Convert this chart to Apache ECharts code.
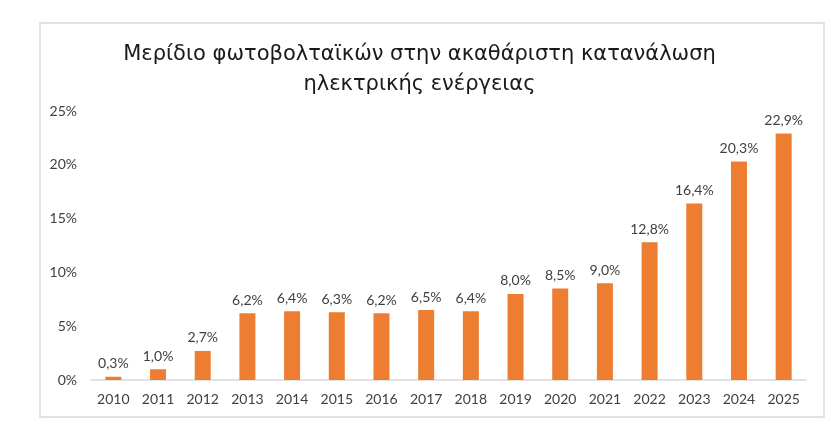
<!DOCTYPE html>
<html>
<head>
<meta charset="utf-8">
<script src="https://cdn.jsdelivr.net/npm/echarts@6/dist/echarts.min.js"></script>
<style>
  html, body { margin: 0; padding: 0; background: #fff; }
  #chart { width: 839px; height: 428px; }
</style>
</head>
<body>
<div id="chart"></div>
<script>
const years = ['2010', '2011', '2012', '2013', '2014', '2015', '2016', '2017',
  '2018', '2019', '2020', '2021', '2022', '2023', '2024', '2025']
const share = [0.3, 1.0, 2.7, 6.2, 6.4, 6.3, 6.2, 6.5, 6.4, 8.0, 8.5, 9.0, 12.8, 16.4, 20.3, 22.9]
const titleLines = ['Μερίδιο φωτοβολταϊκών στην ακαθάριστη κατανάλωση', 'ηλεκτρικής ενέργειας']

const font = 'Lato, "Noto Sans", sans-serif'
const chart = echarts.init(document.getElementById('chart'))

chart.setOption({
  animation: false,
  graphic: [{
    type: 'rect',
    shape: { x: 40, y: 23, width: 784, height: 394 },
    style: { fill: 'none', stroke: '#d9d9d9', lineWidth: 1.5 },
    silent: true
  }],
  title: {
    text: titleLines.join('\n'),
    left: 'center',
    top: 35,
    textStyle: {
      fontFamily: '"DejaVu Sans", sans-serif',
      fontSize: 21,
      fontWeight: 'normal',
      color: '#1a1a1a',
      lineHeight: 30
    }
  },
  grid: { left: 91, right: 33, top: 111, bottom: 48 },
  xAxis: {
    type: 'category',
    data: years,
    axisLine: { lineStyle: { color: '#d9d9d9', width: 1.5 } },
    axisTick: { show: false },
    axisLabel: { color: '#404040', fontFamily: font, fontSize: 14, margin: 12 }
  },
  yAxis: {
    type: 'value',
    min: 0,
    max: 25,
    interval: 5,
    splitLine: { show: false },
    axisLine: { show: false },
    axisTick: { show: false },
    axisLabel: {
      color: '#404040',
      fontFamily: font,
      fontSize: 14,
      margin: 14,
      formatter: v => v + '%'
    }
  },
  series: [{
    type: 'bar',
    data: share,
    barWidth: 16,
    itemStyle: { color: '#ed7d31' },
    label: {
      show: true,
      position: 'top',
      distance: 6,
      color: '#404040',
      fontFamily: font,
      fontSize: 14,
      formatter: p => p.value.toFixed(1).replace('.', ',') + '%'
    }
  }]
})
</script>
</body>
</html>
